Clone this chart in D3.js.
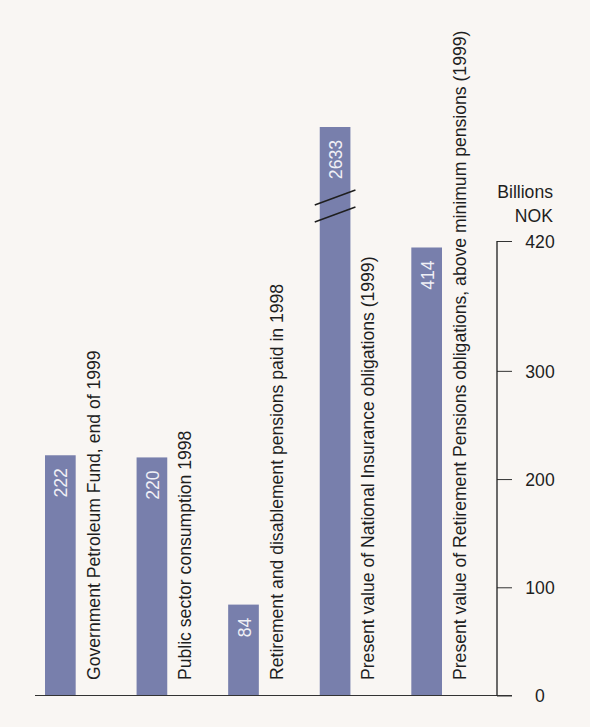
<!DOCTYPE html>
<html>
<head>
<meta charset="utf-8">
<script src="https://cdn.jsdelivr.net/npm/d3@7"></script>
<style>
  html, body { margin: 0; padding: 0; background: #f9f6f3; }
  svg { display: block; }
</style>
</head>
<body>
<script>
// Bar categories and values (billions NOK)
const categories = [
  "Government Petroleum Fund, end of 1999",
  "Public sector consumption 1998",
  "Retirement and disablement pensions paid in 1998",
  "Present value of National Insurance obligations (1999)",
  "Present value of Retirement Pensions obligations, above minimum pensions (1999)"
];
const values = [222, 220, 84, 2633, 414];
const tickValues = [0, 100, 200, 300, 420];
const axisMax = 420;
const unitLines = ["Billions", "NOK"];

const W = 590, H = 727;
const FONT = "'Liberation Sans Narrow', 'Arial Narrow', 'Liberation Sans', sans-serif";
const FS = 17.6;
const barColor = "#787fac";
const ink = "#1e1e1e";

const svg = d3.select("body").append("svg")
  .attr("width", W).attr("height", H);

svg.append("rect").attr("width", W).attr("height", H).attr("fill", "#f9f6f3");

const y = d3.scaleLinear().domain([0, axisMax]).range([695.5, 241]);
const x = d3.scaleBand().domain(d3.range(values.length)).range([45, 442])
  .paddingInner(0.665).paddingOuter(0);

// Values beyond the axis are cut and drawn to a fixed height above it
const brokenTop = y(axisMax) - 114;
const barTop = v => v > axisMax ? brokenTop : y(v);

const bars = svg.append("g");
bars.selectAll("rect").data(values).join("rect")
  .attr("x", (d, i) => x(i))
  .attr("width", x.bandwidth())
  .attr("y", d => barTop(d))
  .attr("height", d => y(0) - barTop(d))
  .attr("fill", barColor);

// Break marks on bars exceeding the axis
values.forEach((v, i) => {
  if (v <= axisMax) return;
  const x0 = x(i) - 5, x1 = x(i) + x.bandwidth() + 5;
  const mid = y(axisMax) - 35;
  [-8.5, 8.5].forEach(off => {
    svg.append("line")
      .attr("x1", x0).attr("y1", mid + off + 7.5)
      .attr("x2", x1).attr("y2", mid + off - 7.5)
      .attr("stroke", ink).attr("stroke-width", 1.4);
  });
});

// Value labels inside bars
svg.append("g").selectAll("text").data(values).join("text")
  .attr("transform", (d, i) =>
    `translate(${x(i) + x.bandwidth() / 2 + 7},${barTop(d) + 13}) rotate(-90)`)
  .attr("text-anchor", "end")
  .attr("font-family", FONT).attr("font-size", FS)
  .attr("fill", "#f0f0f6")
  .text(d => d);

// Category labels beside bars
svg.append("g").selectAll("text").data(categories).join("text")
  .attr("transform", (d, i) =>
    `translate(${x(i) + x.bandwidth() + 24},680) rotate(-90)`)
  .attr("text-anchor", "start")
  .attr("font-family", FONT).attr("font-size", FS)
  .attr("fill", ink)
  .text(d => d);

// Baseline
svg.append("line")
  .attr("x1", 35).attr("x2", 512)
  .attr("y1", y(0)).attr("y2", y(0))
  .attr("stroke", "#333").attr("stroke-width", 1.2);

// Right-hand value axis
const axisX = 497;
const axis = d3.axisRight(y).tickValues(tickValues).tickSize(15).tickPadding(0);
const gAxis = svg.append("g").attr("transform", `translate(${axisX},0)`).call(axis);
gAxis.select(".domain").remove();
gAxis.append("line")
  .attr("x1", 0).attr("x2", 0)
  .attr("y1", y(axisMax)).attr("y2", y(0))
  .attr("stroke", ink).attr("stroke-width", 1.3);
gAxis.selectAll(".tick line").attr("stroke", "#333").attr("stroke-width", 1);
gAxis.selectAll(".tick text")
  .attr("x", 43).attr("dy", "0.36em")
  .attr("text-anchor", "middle")
  .attr("font-family", FONT).attr("font-size", FS)
  .attr("fill", ink);

// Unit label
svg.append("g").selectAll("text").data(unitLines).join("text")
  .attr("x", 553)
  .attr("y", (d, i) => 197.5 + i * 24)
  .attr("text-anchor", "end")
  .attr("font-family", FONT).attr("font-size", FS)
  .attr("fill", ink)
  .text(d => d);
</script>
</body>
</html>
